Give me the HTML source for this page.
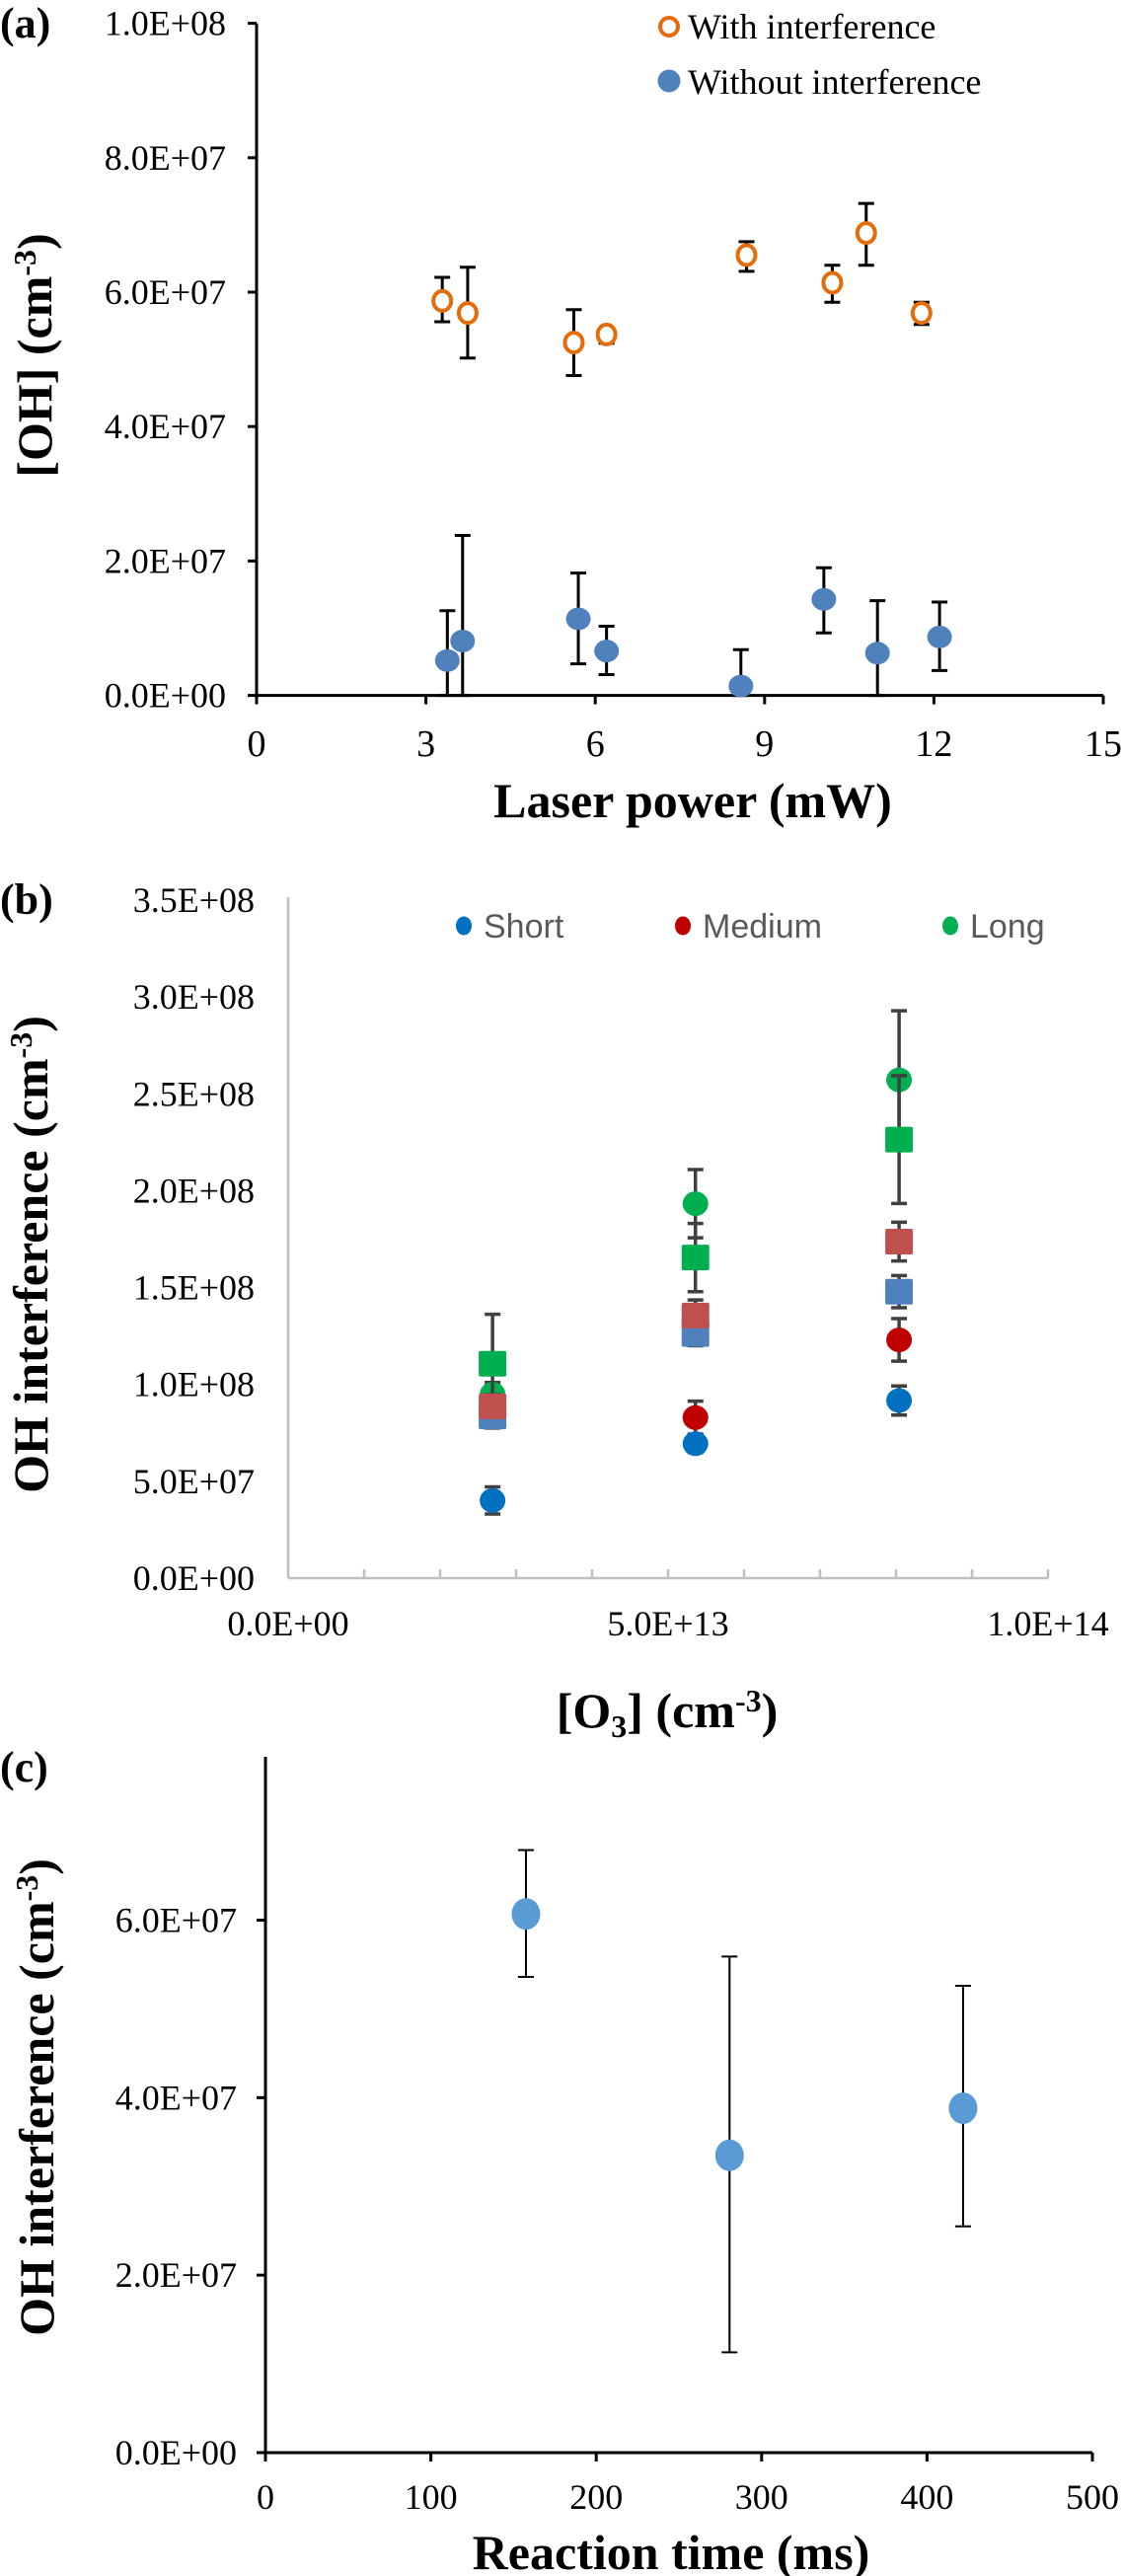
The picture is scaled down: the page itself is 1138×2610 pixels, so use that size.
<!DOCTYPE html>
<html><head><meta charset="utf-8"><style>
html,body{margin:0;padding:0;background:#fff;}
svg{display:block;}
text{font-family:"Liberation Serif",serif;}
</style></head><body>
<svg id="fig" width="1138" height="2610" viewBox="0 0 1138 2610" xmlns="http://www.w3.org/2000/svg"></svg>
<script>
// ---- Panel (a) data ----
const aWithX = [3.29, 3.74, 5.62, 6.2, 8.68, 10.2, 10.8, 11.78];
const aWithY = [58.7, 56.9, 52.5, 53.7, 65.5, 61.4, 68.8, 56.9];
const aWithHi = [62.2, 63.7, 57.4, 54.6, 67.5, 64.0, 73.2, 58.5];
const aWithLo = [55.6, 50.2, 47.6, 52.4, 63.1, 58.5, 64.0, 55.2];
const aWoX = [3.38, 3.65, 5.7, 6.2, 8.58, 10.05, 11.0, 12.1];
const aWoY = [5.2, 8.1, 11.4, 6.6, 1.4, 14.3, 6.3, 8.7];
const aWoHi = [12.6, 23.8, 18.2, 10.3, 6.8, 19.0, 14.1, 13.9];
const aWoLo = [0, 0, 4.7, 3.1, 0, 9.3, 0, 3.7];
const aXTicks = [0, 3, 6, 9, 12, 15];
const aYTicks = [0, 20, 40, 60, 80, 100];
const aYLabels = ["0.0E+00","2.0E+07","4.0E+07","6.0E+07","8.0E+07","1.0E+08"];
// ---- Panel (b) data (x in 1e13, y in 1e6) ----
const bX = [2.69, 5.36, 8.04];
const bShortC = [40.1, 69.4, 91.7];
const bShortCErr = [7, 4.5, 7.5];
const bMedC = [86, 82.9, 123];
const bMedCErr = [6, 8.5, 11];
const bLongC = [95, 193.3, 257.2];
const bLongCErr = [6, 17.6, 35.7];
const bShortS = [83.5, 126, 147.9];
const bShortSErr = [6, 6, 8.3];
const bMedS = [88.7, 135.6, 173.7];
const bMedSErr = [6, 8, 10];
const bLongS = [110.7, 165.5, 226.4];
const bLongSErr = [25.5, 17.6, 33];
const bXTicks = [0, 5, 10];
const bXLabels = ["0.0E+00","5.0E+13","1.0E+14"];
const bYTicks = [0, 50, 100, 150, 200, 250, 300, 350];
const bYLabels = ["0.0E+00","5.0E+07","1.0E+08","1.5E+08","2.0E+08","2.5E+08","3.0E+08","3.5E+08"];
// ---- Panel (c) data ----
const cX = [157.5, 280.6, 421.8];
const cY = [60.7, 33.5, 38.8];
const cHi = [67.9, 55.9, 52.6];
const cLo = [53.6, 11.3, 25.5];
const cXTicks = [0, 100, 200, 300, 400, 500];
const cYTicks = [0, 20, 40, 60];
const cYLabels = ["0.0E+00","2.0E+07","4.0E+07","6.0E+07"];

const NS = "http://www.w3.org/2000/svg";
const svg = document.getElementById('fig');
function mk(tag, attrs, parent, txt){
  const e = document.createElementNS(NS, tag);
  for (const k in attrs) e.setAttribute(k, attrs[k]);
  if (txt !== undefined) e.textContent = txt;
  (parent || svg).appendChild(e);
  return e;
}
function grp(name){ const g = mk('g', {});   return g; }
function errBar(g, x, y1, y2, cap, color, w, name){
  const e = mk('g', {stroke: color, 'stroke-width': w, fill: 'none'}, g);
  
  
  mk('line', {x1: x, x2: x, y1: y1, y2: y2}, e);
  mk('line', {x1: x - cap, x2: x + cap, y1: y1, y2: y1}, e);
  mk('line', {x1: x - cap, x2: x + cap, y1: y2, y2: y2}, e);
}

// ================= Panel (a) =================
(function(){
  const X0 = 260, X1 = 1118, Y0 = 704.6, Y1 = 23.6;
  const sx = v => X0 + (v - 0) / 15 * (X1 - X0);
  const sy = v => Y0 - v / 100 * (Y0 - Y1);
  const g = grp('panel-a');
  const lab = mk('text', {x: 0, y: 38, 'font-size': 44, 'font-weight': 'bold'}, g, '(a)');
   
  const ax = mk('g', {stroke: '#000', 'stroke-width': 3}, g);
   
  mk('line', {x1: X0, x2: X0, y1: Y1, y2: Y0 + 1.5}, ax);
  mk('line', {x1: X0 - 1.5, x2: X1, y1: Y0, y2: Y0}, ax);
  aYTicks.forEach((t, i) => {
    mk('line', {x1: X0 - 9, x2: X0, y1: sy(t), y2: sy(t)}, ax);
    const tx = mk('text', {x: 229, y: sy(t) + 12, 'font-size': 36, 'text-anchor': 'end'}, g, aYLabels[i]);
     
  });
  aXTicks.forEach(t => {
    mk('line', {x1: sx(t), x2: sx(t), y1: Y0, y2: Y0 + 9}, ax);
    const tx = mk('text', {x: Math.min(sx(t), 1118), y: 766, 'font-size': 38, 'text-anchor': 'middle'}, g, String(t));
     
  });
  const xt = mk('text', {x: 702, y: 828, 'font-size': 50, 'font-weight': 'bold', 'text-anchor': 'middle'}, g, 'Laser power (mW)');
   
  const yt = mk('text', {x: 0, y: 0, 'font-size': 50, 'font-weight': 'bold', 'text-anchor': 'middle', transform: 'translate(52,360) rotate(-90)'}, g);
   
  yt.innerHTML = '[OH] (cm<tspan dy="-16" font-size="32">-3</tspan><tspan dy="16">)</tspan>';
  aWithX.forEach((x, i) => errBar(g, sx(x), sy(aWithHi[i]), sy(aWithLo[i]), 8, '#000', 3, 'error-bar-with'));
  aWoX.forEach((x, i) => errBar(g, sx(x), sy(aWoHi[i]), sy(aWoLo[i]), 8, '#000', 3, 'error-bar-without'));
  aWithX.forEach((x, i) => {
    const c = mk('ellipse', {cx: sx(x), cy: sy(aWithY[i]), rx: 9, ry: 10, fill: '#fff', stroke: '#e46c0a', 'stroke-width': 4}, g);
     
  });
  aWoX.forEach((x, i) => {
    const c = mk('ellipse', {cx: sx(x), cy: sy(aWoY[i]), rx: 12.5, ry: 11.5, fill: '#4f81bd'}, g);
     
  });
  const lg = mk('g', {}, g);
   
  mk('circle', {cx: 678, cy: 27, r: 9, fill: '#fff', stroke: '#e46c0a', 'stroke-width': 4}, lg);
  const l1 = mk('text', {x: 697, y: 39, 'font-size': 36}, lg, 'With interference');
   
  mk('circle', {cx: 678, cy: 82, r: 11.5, fill: '#4f81bd'}, lg);
  const l2 = mk('text', {x: 697, y: 95, 'font-size': 36}, lg, 'Without interference');
   
})();

// ================= Panel (b) =================
(function(){
  const X0 = 292, X1 = 1062, Y0 = 1599, Y1 = 912;
  const sx = v => X0 + v / 10 * (X1 - X0);
  const sy = v => Y0 - v / 350 * (Y0 - Y1);
  const g = grp('panel-b');
  const lab = mk('text', {x: 0, y: 926, 'font-size': 44, 'font-weight': 'bold'}, g, '(b)');
   
  const ax = mk('g', {stroke: '#bfbfbf', 'stroke-width': 2.5}, g);
   
  mk('line', {x1: X0, x2: X0, y1: 909, y2: Y0}, ax);
  mk('line', {x1: X0, x2: X1, y1: Y0, y2: Y0}, ax);
  for (let k = 1; k <= 10; k++) mk('line', {x1: sx(k), x2: sx(k), y1: Y0, y2: Y0 - 9}, ax);
  bYTicks.forEach((t, i) => {
    const tx = mk('text', {x: 258, y: sy(t) + 12, 'font-size': 36, 'text-anchor': 'end'}, g, bYLabels[i]);
     
  });
  bXTicks.forEach((t, i) => {
    const tx = mk('text', {x: Math.min(sx(t), 1076), y: 1657, 'font-size': 36, 'text-anchor': 'middle'}, g, bXLabels[i]);
     
  });
  const xt = mk('text', {x: 676, y: 1750, 'font-size': 50, 'font-weight': 'bold', 'text-anchor': 'middle'}, g);
   
  xt.innerHTML = '[O<tspan dy="10" font-size="32">3</tspan><tspan dy="-10">] (cm</tspan><tspan dy="-16" font-size="32">-3</tspan><tspan dy="16">)</tspan>';
  const yt = mk('text', {x: 0, y: 0, 'font-size': 50, 'font-weight': 'bold', 'text-anchor': 'middle', transform: 'translate(48,1271) rotate(-90)'}, g);
   
  yt.innerHTML = 'OH  interference (cm<tspan dy="-16" font-size="32">-3</tspan><tspan dy="16">)</tspan>';
  const EC = '#404040';
  const circ = [[bShortC, bShortCErr, '#0070c0', 'short'], [bMedC, bMedCErr, '#c00000', 'medium'], [bLongC, bLongCErr, '#00b050', 'long']];
  const sq = [[bShortS, bShortSErr, '#4f81bd', 'short'], [bMedS, bMedSErr, '#c0504d', 'medium'], [bLongS, bLongSErr, '#00b050', 'long']];
  circ.forEach(s => bX.forEach((x, i) => errBar(g, sx(x), sy(s[0][i] + s[1][i]), sy(s[0][i] - s[1][i]), 8, EC, 3.5, 'error-bar-' + s[3])));
  circ.forEach(s => bX.forEach((x, i) => {
    const c = mk('ellipse', {cx: sx(x), cy: sy(s[0][i]), rx: 13, ry: 12.5, fill: s[2]}, g);
     
  }));
  sq.forEach(s => bX.forEach((x, i) => errBar(g, sx(x), sy(s[0][i] + s[1][i]), sy(s[0][i] - s[1][i]), 8, EC, 3.5, 'error-bar-' + s[3])));
  sq.forEach(s => bX.forEach((x, i) => {
    const r = mk('rect', {x: sx(x) - 14, y: sy(s[0][i]) - 13, width: 28, height: 26, rx: 2, fill: s[2]}, g);
     
  }));
  const lg = mk('g', {}, g);
   
  [[470, '#0070c0', 'Short'], [692, '#c00000', 'Medium'], [963, '#00b050', 'Long']].forEach(e => {
    mk('ellipse', {cx: e[0], cy: 938, rx: 8, ry: 9.5, fill: e[1]}, lg);
    const t = mk('text', {x: e[0] + 20, y: 950, 'font-size': 34, fill: '#595959', style: 'font-family:"Liberation Sans",sans-serif'}, lg, e[2]);
     
  });
})();

// ================= Panel (c) =================
(function(){
  const X0 = 269, X1 = 1107, Y0 = 2485, Y1 = 1945.5;
  const sx = v => X0 + v / 500 * (X1 - X0);
  const sy = v => Y0 - v / 60 * (Y0 - Y1);
  const g = grp('panel-c');
  const lab = mk('text', {x: 0, y: 1805, 'font-size': 44, 'font-weight': 'bold'}, g, '(c)');
   
  const ax = mk('g', {stroke: '#000', 'stroke-width': 3}, g);
   
  mk('line', {x1: X0, x2: X0, y1: 1780, y2: Y0 + 1.5}, ax);
  mk('line', {x1: X0 - 1.5, x2: X1, y1: Y0, y2: Y0}, ax);
  cYTicks.forEach((t, i) => {
    mk('line', {x1: X0 - 9, x2: X0, y1: sy(t), y2: sy(t)}, ax);
    const tx = mk('text', {x: 240, y: sy(t) + 12, 'font-size': 36, 'text-anchor': 'end'}, g, cYLabels[i]);
     
  });
  cXTicks.forEach(t => {
    mk('line', {x1: sx(t), x2: sx(t), y1: Y0, y2: Y0 + 9}, ax);
    const tx = mk('text', {x: Math.min(sx(t), 1112), y: 2542, 'font-size': 36, 'text-anchor': 'middle'}, g, String(t));
     
  });
  const xt = mk('text', {x: 680, y: 2603, 'font-size': 50, 'font-weight': 'bold', 'text-anchor': 'middle'}, g, 'Reaction time (ms)');
   
  const yt = mk('text', {x: 0, y: 0, 'font-size': 50, 'font-weight': 'bold', 'text-anchor': 'middle', transform: 'translate(54,2125) rotate(-90)'}, g);
   
  yt.innerHTML = 'OH  interference (cm<tspan dy="-16" font-size="32">-3</tspan><tspan dy="16">)</tspan>';
  cX.forEach((x, i) => errBar(g, sx(x), sy(cHi[i]), sy(cLo[i]), 8, '#000', 2, 'error-bar'));
  cX.forEach((x, i) => {
    const c = mk('ellipse', {cx: sx(x), cy: sy(cY[i]), rx: 14.5, ry: 16, fill: '#5b9bd5'}, g);
     
  });
})();
</script>
</body></html>
